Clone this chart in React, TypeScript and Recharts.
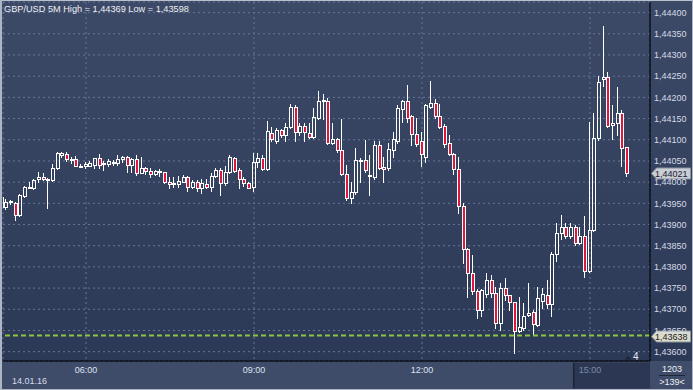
import React from 'react';
import { ComposedChart, Bar, XAxis, YAxis, CartesianGrid, ReferenceLine } from 'recharts';

// ---- data (GBP/USD 5M candles, index = bar number) ----
const opens = [
  1.43966, 1.43942, 1.43956, 1.4395, 1.43923, 1.43968, 1.43988, 1.43986, 1.44007, 1.44012,
  1.44005, 1.44005, 1.44033, 1.44064, 1.44067, 1.44052, 1.44055, 1.44038, 1.44037, 1.44039,
  1.44041, 1.44056, 1.44043, 1.44043, 1.44047, 1.44046, 1.44055, 1.44059, 1.44041, 1.44054,
  1.44022, 1.44033, 1.44027, 1.44019, 1.44023, 1.44023, 1.44001, 1.43997, 1.43995, 1.44001,
  1.44012, 1.43988, 1.44001, 1.43986, 1.43996, 1.43989, 1.44015, 1.44029, 1.43997, 1.44023,
  1.44056, 1.44029, 1.44007, 1.43999, 1.43988, 1.44048, 1.44058, 1.44031, 1.44115, 1.44097,
  1.44123, 1.44111, 1.44129, 1.44177, 1.44118, 1.44133, 1.44115, 1.44107, 1.44151, 1.44192,
  1.44192, 1.44092, 1.44101, 1.44076, 1.44019, 1.43962, 1.43976, 1.4405, 1.44052, 1.44014,
  1.44013, 1.44088, 1.44036, 1.44033, 1.44076, 1.44096, 1.44172, 1.44192, 1.44155, 1.44113,
  1.44096, 1.4406, 1.44178, 1.44186, 1.44155, 1.44133, 1.44092, 1.44066, 1.44031, 1.43944,
  1.43842, 1.43786, 1.43744, 1.43698, 1.43736, 1.43769, 1.43738, 1.43667, 1.4375, 1.43733,
  1.43717, 1.43649, 1.43657, 1.43687, 1.43693, 1.43663, 1.4372, 1.43734, 1.43712, 1.43831,
  1.43879, 1.43894, 1.43873, 1.43894, 1.43857, 1.43874, 1.4379, 1.43887, 1.44104, 1.44243,
  1.44248, 1.44135, 1.44139, 1.44164, 1.44082,
];
const highs = [
  1.4397, 1.4396, 1.43959, 1.43953, 1.43972, 1.43991, 1.44, 1.44008, 1.44025, 1.44021,
  1.4401, 1.44043, 1.44071, 1.44072, 1.4407, 1.4406, 1.44062, 1.44043, 1.44048, 1.44049,
  1.44058, 1.44067, 1.44051, 1.44054, 1.44052, 1.44064, 1.44062, 1.44062, 1.44056, 1.44064,
  1.4406, 1.44035, 1.44033, 1.44029, 1.4403, 1.44025, 1.44013, 1.44013, 1.44015, 1.44017,
  1.44015, 1.44004, 1.44005, 1.44007, 1.44007, 1.44021, 1.44033, 1.44033, 1.44037, 1.44064,
  1.4406, 1.44033, 1.44013, 1.44001, 1.44068, 1.44068, 1.44064, 1.44145, 1.44131, 1.44127,
  1.44126, 1.4414, 1.44185, 1.44182, 1.44139, 1.44139, 1.44139, 1.44174, 1.44214, 1.44208,
  1.44198, 1.44139, 1.44103, 1.44148, 1.44041, 1.44001, 1.4408, 1.44056, 1.441, 1.44064,
  1.44097, 1.44096, 1.4406, 1.44093, 1.44118, 1.44182, 1.44194, 1.44229, 1.44159, 1.44152,
  1.44119, 1.44185, 1.44239, 1.44196, 1.44184, 1.44137, 1.44111, 1.44069, 1.4406, 1.4395,
  1.43845, 1.43828, 1.43747, 1.43747, 1.43785, 1.43781, 1.43752, 1.43763, 1.43773, 1.43734,
  1.43718, 1.4373, 1.43714, 1.43763, 1.43698, 1.43752, 1.4375, 1.43769, 1.43835, 1.43903,
  1.43923, 1.43903, 1.43903, 1.43898, 1.43894, 1.43921, 1.44143, 1.44163, 1.44251, 1.44369,
  1.44261, 1.44182, 1.44224, 1.4417, 1.44084,
];
const lows = [
  1.43939, 1.43936, 1.43949, 1.43911, 1.4392, 1.43966, 1.43986, 1.43984, 1.44001, 1.44005,
  1.43938, 1.44003, 1.44031, 1.44059, 1.44051, 1.44046, 1.44037, 1.44035, 1.44034, 1.44037,
  1.44033, 1.44033, 1.44029, 1.44038, 1.44041, 1.44041, 1.44048, 1.44025, 1.44025, 1.44017,
  1.44021, 1.44019, 1.44013, 1.44016, 1.44015, 1.43997, 1.43987, 1.43988, 1.43989, 1.44,
  1.43978, 1.43985, 1.43978, 1.43975, 1.43986, 1.43978, 1.44012, 1.4397, 1.43993, 1.44021,
  1.44025, 1.43986, 1.43991, 1.43986, 1.43978, 1.44035, 1.44028, 1.44029, 1.44096, 1.44092,
  1.44106, 1.44097, 1.44127, 1.44098, 1.44111, 1.44096, 1.44105, 1.44105, 1.44149, 1.44148,
  1.44089, 1.44089, 1.4407, 1.44016, 1.43959, 1.4395, 1.43973, 1.44001, 1.44024, 1.4397,
  1.44008, 1.44031, 1.44001, 1.44029, 1.4406, 1.44093, 1.44143, 1.44143, 1.44088, 1.44085,
  1.44037, 1.44047, 1.44176, 1.44152, 1.44128, 1.44084, 1.44063, 1.4402, 1.43928, 1.43809,
  1.4373, 1.43737, 1.43679, 1.43684, 1.43728, 1.43728, 1.43655, 1.43651, 1.43722, 1.43698,
  1.43598, 1.43647, 1.43651, 1.43683, 1.43641, 1.43661, 1.43702, 1.43702, 1.43683, 1.43815,
  1.43865, 1.43868, 1.43868, 1.43852, 1.43854, 1.43776, 1.43787, 1.43885, 1.441, 1.44227,
  1.44129, 1.44101, 1.44111, 1.44037, 1.44015,
];
const closes = [
  1.43942, 1.43954, 1.43952, 1.43923, 1.4397, 1.43988, 1.43989, 1.44005, 1.44012, 1.44007,
  1.44007, 1.44033, 1.44068, 1.44068, 1.44054, 1.44055, 1.44038, 1.44039, 1.44043, 1.44046,
  1.44056, 1.44041, 1.44045, 1.44051, 1.44048, 1.44055, 1.4406, 1.44041, 1.44054, 1.44022,
  1.44033, 1.44027, 1.44019, 1.44026, 1.44026, 1.44001, 1.43995, 1.43996, 1.44003, 1.44013,
  1.43988, 1.44001, 1.43986, 1.43999, 1.43989, 1.44015, 1.44029, 1.43997, 1.44025, 1.4406,
  1.44027, 1.44007, 1.43999, 1.43987, 1.44048, 1.44056, 1.44031, 1.44121, 1.44101, 1.44123,
  1.44111, 1.44129, 1.44178, 1.44118, 1.44133, 1.44118, 1.44107, 1.44153, 1.44192, 1.44194,
  1.44092, 1.44101, 1.44076, 1.44019, 1.43962, 1.43976, 1.44052, 1.44052, 1.44029, 1.44017,
  1.44088, 1.44034, 1.4403, 1.44078, 1.44102, 1.44174, 1.44192, 1.44152, 1.44113, 1.44089,
  1.44066, 1.44182, 1.44186, 1.44155, 1.44131, 1.44089, 1.44066, 1.44031, 1.43944, 1.43842,
  1.43786, 1.43742, 1.43698, 1.43746, 1.43769, 1.43739, 1.43667, 1.4375, 1.43734, 1.43717,
  1.43649, 1.43658, 1.43684, 1.43691, 1.43665, 1.43726, 1.43735, 1.43712, 1.43831, 1.43879,
  1.43894, 1.43874, 1.43894, 1.43857, 1.43874, 1.4379, 1.43887, 1.44104, 1.44237, 1.44248,
  1.44133, 1.4414, 1.44164, 1.4408, 1.44021,
];

const timeTickIndex = [18, 54, 90, 126];
const timeTickLabels = ['06:00', '09:00', '12:00', '15:00'];
const dateLabel = '14.01.16';
const priceTicks = [
  1.436, 1.4365, 1.437, 1.4375, 1.438, 1.4385, 1.439, 1.4395, 1.44,
  1.4405, 1.441, 1.4415, 1.442, 1.4425, 1.443, 1.4435, 1.444,
];
const lastPrice = 1.44021;
const levelPrice = 1.43638;
const symbol = 'GBP/USD 5M';
const barCountLabel = '1203';
const visibleLabel = '>139<';
const cornerNumber = '4';

const data = opens.map((o, i) => ({ i, o, h: highs[i], l: lows[i], c: closes[i] }));
const maxHigh = Math.max(...highs);
const minLow = Math.min(...lows);

const fmt = (v: number) => v.toFixed(5).replace('.', ',');
const FONT = '"Liberation Sans", Arial, sans-serif';

function Candle(props: any) {
  const { x, y, width, height, payload } = props;
  if (!payload || x == null || y == null) return null;
  const center = x + width / 2;
  const cx = Math.round(center - 1);
  const top = Math.min(y, y + height);
  const bot = Math.max(y, y + height);
  const { o, h, l, c } = payload;
  const span = h - l;
  const py = (p: number) => (span > 0 ? top + ((h - p) / span) * (bot - top) : top);
  const yH = Math.round(top);
  const yL = Math.round(bot);
  const yTop = Math.round(py(Math.max(o, c)));
  let yBot = Math.round(py(Math.min(o, c)));
  if (yBot - yTop < 1) yBot = yTop + 1;
  const bear = c < o;
  const wx = cx + 0.5;
  return (
    <g>
      {yTop > yH && <line x1={wx} x2={wx} y1={yH} y2={yTop} stroke="#ffffff" strokeWidth={1} />}
      {yL > yBot && <line x1={wx} x2={wx} y1={yBot + 1} y2={yL + 1} stroke="#ffffff" strokeWidth={1} />}
      <rect
        x={cx - 0.5}
        y={yTop + 0.5}
        width={3}
        height={yBot - yTop}
        fill={bear ? '#e0163c' : 'none'}
        stroke="#ffffff"
        strokeWidth={1}
      />
    </g>
  );
}

function TimeTick(props: any) {
  const { x, y, payload } = props;
  const idx = timeTickIndex.indexOf(payload.value);
  if (idx < 0) return null;
  const label = timeTickLabels[idx];
  const active = idx === timeTickIndex.length - 1;
  return (
    <g>
      {active && (
        <g>
          <rect x={x - 17} y={y + 1.5} width={650 - (x - 17)} height={26} fill="#2c3853" />
          <rect x={x - 17} y={y + 1.5} width={1.5} height={26} fill="#1c2436" />
        </g>
      )}
      {idx === 0 && (
        <text x={12} y={y + 23} fontSize={9} fontFamily={FONT} fill="#d6dce8">
          {dateLabel}
        </text>
      )}
      <text
        x={x}
        y={y + 12}
        textAnchor="middle"
        fontSize={9}
        fontFamily={FONT}
        fill={active ? '#7c8aa3' : '#dde4f0'}
      >
        {label}
      </text>
    </g>
  );
}

function PriceTag(props: any) {
  const { viewBox, text, bg } = props;
  if (!viewBox) return null;
  const x = viewBox.x + viewBox.width;
  const yc = Math.round(viewBox.y);
  const d = `M${x + 1.5},${yc + 0.5} L${x + 6.5},${yc - 5} H${x + 40.5} V${yc + 6} H${x + 6.5} Z`;
  return (
    <g>
      <path d={d} fill={bg} stroke="#8a93a3" strokeWidth={1} />
      <text x={x + 5} y={yc + 0.5} dy="0.355em" fontSize={9} fontFamily={FONT} fill="#1b2030">
        {fmt(props.value)}
      </text>
    </g>
  );
}

export default function App() {
  return (
    <div
      style={{
        position: 'absolute',
        left: 0,
        top: 0,
        width: 693,
        height: 390,
        overflow: 'hidden',
        background: '#3e4b69',
      }}
    >
      <div
        style={{
          position: 'absolute',
          left: 0,
          top: 0,
          width: 693,
          height: 361,
          background: 'linear-gradient(to bottom, #3d4a67 0%, #34415f 50%, #2c3956 100%)',
        }}
      />
      <div style={{ position: 'absolute', left: 0, top: 0 }}>
        <ComposedChart width={693} height={390} data={data} margin={{ top: 2, right: 0, bottom: 0, left: 3 }}>
          <CartesianGrid stroke="#66759a" strokeDasharray="2 3" strokeWidth={1} />
          <XAxis
            type="number"
            dataKey="i"
            domain={[0.214, 138.86]}
            allowDataOverflow
            ticks={timeTickIndex}
            interval={0}
            tick={<TimeTick />}
            tickLine={false}
            tickSize={0}
            tickMargin={0}
            height={29}
            axisLine={{ stroke: '#0a0e16', strokeWidth: 1.5 }}
          />
          <YAxis
            orientation="right"
            type="number"
            domain={[1.43578, 1.44425]}
            allowDataOverflow
            ticks={priceTicks}
            interval={0}
            tickFormatter={fmt}
            width={43}
            tickLine={false}
            tickSize={0}
            tickMargin={4}
            axisLine={{ stroke: '#0a0e16', strokeWidth: 1.5 }}
            tick={{ fill: '#d5dbe6', fontSize: 9, fontFamily: FONT }}
          />
          <Bar dataKey={(d: any) => [d.l, d.h]} shape={<Candle />} barSize={4} isAnimationActive={false} />
          <ReferenceLine
            y={levelPrice}
            stroke="#8cc540"
            strokeWidth={2}
            strokeDasharray="5 3"
            label={<PriceTag value={levelPrice} bg="#dcdcc6" />}
          />
          <ReferenceLine
            y={lastPrice}
            stroke="none"
            strokeWidth={0}
            label={<PriceTag value={lastPrice} bg="#c9cdd4" />}
          />
        </ComposedChart>
      </div>
      <svg
        width={693}
        height={390}
        style={{ position: 'absolute', left: 0, top: 0, pointerEvents: 'none' }}
      >
        <text x={4} y={12} fontSize={9.2} fontFamily={FONT} fill="#eef0f5">
          {`${symbol} High = ${fmt(maxHigh)} Low = ${fmt(minLow)}`}
        </text>
        <polygon points="625,359.5 628,356 631,359.5" fill="#1e2534" />
        <text x={633} y={359.5} fontSize={10} fontFamily={FONT} fill="#e6eaf2">
          {cornerNumber}
        </text>
        <rect x={651} y={362} width={42} height={28} fill="#3f4c6a" />
        <text x={672} y={371.5} textAnchor="middle" fontSize={9} fontFamily={FONT} fill="#eef1f6">
          {barCountLabel}
        </text>
        <line x1={659} x2={685} y1={375.5} y2={375.5} stroke="#1e2638" strokeWidth={1} />
        <text x={672} y={385} textAnchor="middle" fontSize={9} fontFamily={FONT} fill="#eef1f6">
          {visibleLabel}
        </text>
        <rect x={0} y={0} width={693} height={1} fill="#b9c1cc" />
        <rect x={0} y={0} width={2} height={390} fill="#aeb6c3" />
        <rect x={692} y={0} width={1} height={390} fill="#aeb6c3" />
        <rect x={0} y={389} width={693} height={1} fill="#aeb6c3" />
      </svg>
    </div>
  );
}
